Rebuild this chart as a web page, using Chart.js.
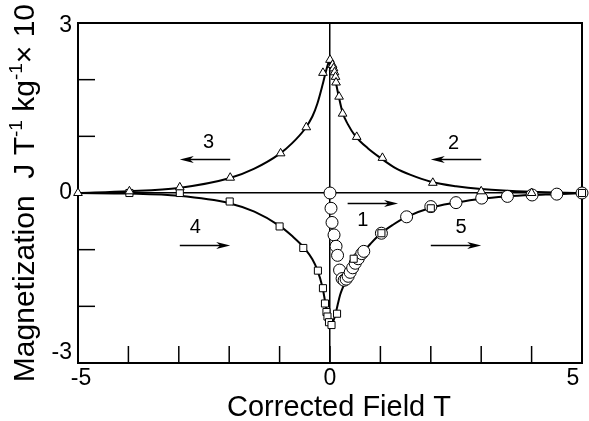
<!DOCTYPE html>
<html><head><meta charset="utf-8">
<script src="https://cdn.jsdelivr.net/npm/chart.js@4/dist/chart.umd.min.js"></script>
<style>html,body{margin:0;padding:0;background:#fff;}canvas{display:block;}</style>
</head><body>
<canvas id="c" width="589" height="421"></canvas>
<script>
// ---- data ----
const triX = [-5, -3.98, -2.98, -1.98, -0.98, -0.47, -0.14, 0, 0.05, 0.07, 0.09, 0.11, 0.12, 0.18, 0.25, 0.53, 1.04, 2.04, 3.0, 4.0];
const triY = [0, 0.03, 0.1, 0.27, 0.7, 1.16, 2.12, 2.35, 2.26, 2.2, 2.13, 2.05, 1.95, 1.7, 1.4, 0.99, 0.62, 0.18, 0.03, 0.0];

const sqX = [-3.98, -2.98, -1.99, -1.0, -0.53, -0.24, -0.14, -0.1, -0.07, -0.05, -0.02, 0.03, 0.14, 0.47, 1.02, 2.0, 5.0];
const sqY = [0, 0, -0.15, -0.59, -0.97, -1.37, -1.68, -1.95, -2.1, -2.18, -2.28, -2.33, -2.13, -1.16, -0.71, -0.27, 0];

const circX = [0, 0.02, 0.04, 0.08, 0.12, 0.15, 0.19, 0.24, 0.28, 0.32, 0.36, 0.40, 0.45, 0.5, 0.56, 0.63, 0.67, 1.02, 1.52, 2.0, 2.5, 3.01, 3.52, 4.01, 4.5, 5.0];
const circY = [0, -0.27, -0.52, -0.74, -0.94, -1.1, -1.36, -1.51, -1.54, -1.52, -1.47, -1.40, -1.32, -1.24, -1.16, -1.07, -1.03, -0.71, -0.42, -0.24, -0.17, -0.09, -0.06, -0.035, -0.02, 0];

const upLeftX  = [-5, -4, -3, -2, -1.5, -1, -0.75, -0.5, -0.35, -0.25, -0.15, -0.08, -0.03, 0];
const upLeftY  = [0, 0.03, 0.09, 0.26, 0.43, 0.69, 0.88, 1.13, 1.35, 1.58, 1.9, 2.15, 2.3, 2.37];
const upRightX = [0, 0.05, 0.1, 0.17, 0.25, 0.35, 0.5, 0.75, 1, 1.3, 1.6, 2, 2.5, 3, 4, 5];
const upRightY = [2.37, 2.22, 2.02, 1.72, 1.42, 1.22, 1.01, 0.79, 0.62, 0.44, 0.32, 0.2, 0.12, 0.07, 0.02, 0];
const loLeftX  = [-5, -4, -3, -2, -1.5, -1, -0.75, -0.5, -0.35, -0.25, -0.15, -0.1, -0.05, 0, 0.03];
const loLeftY  = [0, -0.01, -0.05, -0.18, -0.33, -0.58, -0.76, -0.98, -1.17, -1.36, -1.66, -1.9, -2.15, -2.3, -2.34];
const loRightX = [0.03, 0.1, 0.15, 0.2, 0.24, 0.3, 0.37, 0.5, 0.67, 0.8, 1, 1.25, 1.5, 2, 2.5, 3, 3.5, 4, 4.5, 5];
const loRightY = [-2.34, -2.17, -1.98, -1.8, -1.7, -1.58, -1.47, -1.2, -1.03, -0.9, -0.72, -0.56, -0.43, -0.26, -0.17, -0.1, -0.06, -0.035, -0.02, 0];

const xTickLabels = [-5, 0, 5];
const yTickLabels = [3, 0, -3];
const xTitle = 'Corrected Field T';

// branch annotations (number, label position, arrow from/to at height)
const branchLabels = ['1', '2', '3', '4', '5'];
const labelX = [0.65, 2.45, -2.41, -2.67, 2.6];
const labelY = [-0.48, 0.88, 0.9, -0.6, -0.6];
const arrowFrom = [0.35, 3.0, -1.98, -2.98, 2.0];
const arrowTo   = [1.35, 2.0, -2.98, -1.98, 3.0];
const arrowY    = [-0.18, 0.6, 0.6, -0.91, -0.91];

const pts = (xs, ys) => xs.map((v, i) => ({x: v, y: ys[i]}));

function curve(xs, ys) {
  return {data: pts(xs, ys), showLine: true, pointRadius: 0, borderColor: '#000', borderWidth: 2,
          cubicInterpolationMode: 'monotone', fill: false, order: 10};
}
function marks(xs, ys, style, r, ord) {
  return {data: pts(xs, ys), showLine: false, pointStyle: style, pointRadius: r,
          pointBackgroundColor: '#fff', pointBorderColor: '#000', pointBorderWidth: 1, clip: false, order: ord};
}

const deco = {
  id: 'deco',
  beforeDatasetsDraw(chart) {
    const {ctx, chartArea: a, scales: {x, y}} = chart;
    ctx.save();
    ctx.strokeStyle = '#000';
    ctx.lineWidth = 1.5;
    x.ticks.forEach(t => {
      if (t.value === x.min || t.value === x.max) return;
      const p = x.getPixelForValue(t.value);
      ctx.beginPath(); ctx.moveTo(p, a.bottom); ctx.lineTo(p, a.bottom - 17); ctx.stroke();
    });
    y.ticks.forEach(t => {
      if (t.value === y.min || t.value === y.max) return;
      const p = y.getPixelForValue(t.value);
      ctx.beginPath(); ctx.moveTo(a.left, p); ctx.lineTo(a.left + 17, p); ctx.stroke();
    });
    ctx.lineWidth = 2;
    ctx.strokeRect(a.left, a.top, a.right - a.left, a.bottom - a.top);
    // arrows and branch numbers
    ctx.lineWidth = 1.3;
    ctx.fillStyle = '#000';
    for (let i = 0; i < branchLabels.length; i++) {
      const x1 = x.getPixelForValue(arrowFrom[i]), x2 = x.getPixelForValue(arrowTo[i]);
      const yy = Math.round(y.getPixelForValue(arrowY[i])) + 0.5;
      const dir = Math.sign(x2 - x1);
      ctx.beginPath(); ctx.moveTo(x1, yy); ctx.lineTo(x2 - dir * 8, yy); ctx.stroke();
      ctx.beginPath(); ctx.moveTo(x2, yy); ctx.lineTo(x2 - dir * 14, yy - 3.5);
      ctx.lineTo(x2 - dir * 10, yy); ctx.lineTo(x2 - dir * 14, yy + 3.5); ctx.closePath(); ctx.fill();
      ctx.font = '20px "Liberation Sans", Arial, sans-serif';
      ctx.textAlign = 'center'; ctx.textBaseline = 'middle';
      ctx.fillText(branchLabels[i], x.getPixelForValue(labelX[i]), y.getPixelForValue(labelY[i]));
    }
    ctx.restore();
  },
  afterDraw(chart) {
    const {ctx, chartArea: a, scales: {x, y}} = chart;
    ctx.save();
    ctx.fillStyle = '#000';
    ctx.font = '23px "Liberation Sans", Arial, sans-serif';
    ctx.textBaseline = 'middle';
    ctx.textAlign = 'center';
    xTickLabels.forEach(v => {
      let p = x.getPixelForValue(v);
      if (v === x.min) p += 3;
      if (v === x.max) p -= 9;
      ctx.fillText(String(v), p, a.bottom + 16);
    });
    ctx.textAlign = 'right';
    yTickLabels.forEach(v => {
      let p = y.getPixelForValue(v);
      if (v === y.max) p += 3;
      if (v === y.min) p -= 10;
      ctx.fillText(String(v), 72, p);
    });
    // x title
    ctx.font = '29px "Liberation Sans", Arial, sans-serif';
    ctx.textAlign = 'center';
    ctx.textBaseline = 'alphabetic';
    ctx.fillText(xTitle, (a.left + a.right) / 2 + 9, 416);
    // y title, rotated, with superscripts
    const big = '30px "Liberation Sans", Arial, sans-serif';
    const sm = '19px "Liberation Sans", Arial, sans-serif';
    const segs = [['Magnetization  J T', big, 0], ['-1', sm, -12], [' kg', big, 0], ['-1', sm, -12], ['\u00d7 10', big, 0]];
    let total = 0;
    segs.forEach(s => { ctx.font = s[1]; total += ctx.measureText(s[0]).width; });
    ctx.translate(34, 4 + total);
    ctx.rotate(-Math.PI / 2);
    ctx.textAlign = 'left';
    let u = 0;
    segs.forEach(s => { ctx.font = s[1]; ctx.fillText(s[0], u, s[2]); u += ctx.measureText(s[0]).width; });
    ctx.restore();
  }
};

new Chart(document.getElementById('c'), {
  type: 'scatter',
  data: {datasets: [
    marks(triX, triY, 'triangle', 5, 1),
    marks(sqX, sqY, 'rect', 5, 2),
    marks(circX, circY, 'circle', 6, 3),
    curve(upLeftX, upLeftY), curve(upRightX, upRightY),
    curve(loLeftX, loLeftY), curve(loRightX, loRightY)
  ]},
  options: {
    responsive: false, animation: false, devicePixelRatio: 1,
    layout: {padding: {top: 23, right: 1, left: 0, bottom: 0}},
    plugins: {legend: {display: false}, tooltip: {enabled: false}},
    scales: {
      x: {type: 'linear', min: -5, max: 5,
          ticks: {stepSize: 1, display: false},
          grid: {color: c => c.tick && c.tick.value === 0 ? '#000' : 'rgba(0,0,0,0)', lineWidth: 1.5, drawTicks: false},
          border: {display: false},
          afterFit: s => { s.height = 58; }},
      y: {type: 'linear', min: -3, max: 3,
          ticks: {stepSize: 1, display: false},
          grid: {color: c => c.tick && c.tick.value === 0 ? '#000' : 'rgba(0,0,0,0)', lineWidth: 1.5, drawTicks: false},
          border: {display: false},
          afterFit: s => { s.width = 78; }}
    }
  },
  plugins: [deco]
});
</script>
</body></html>
